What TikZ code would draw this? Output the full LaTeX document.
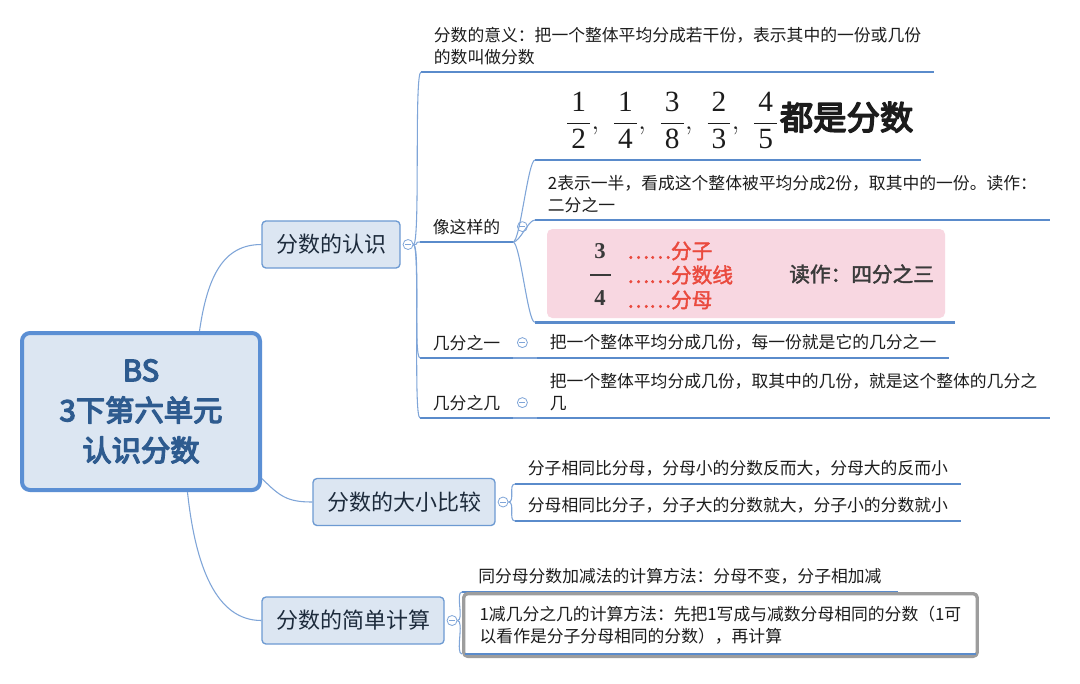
\documentclass[tikz,border=0pt]{standalone}
\usepackage{fontspec}
\setmainfont{Noto Sans CJK SC}
\newfontfamily\cjkbf[FakeBold=2]{Noto Sans CJK SC}
\newfontfamily\cjkheavy[FakeBold=4.5]{Noto Sans CJK SC}
\newfontfamily\numfont{Liberation Serif}
\usetikzlibrary{positioning}
\definecolor{Wire}{HTML}{7FA5D8}
\definecolor{ULine}{HTML}{5A8BCB}
\definecolor{Frame}{HTML}{6D9AD2}
\definecolor{Pale}{HTML}{DCE6F2}
\definecolor{RootEdge}{HTML}{5B8FD4}
\definecolor{RootInk}{HTML}{2E5B8F}
\definecolor{Ink}{HTML}{1C1C1C}
\definecolor{TopicInk}{HTML}{1D2B3C}
\definecolor{Blush}{HTML}{F8D7E1}
\definecolor{Scarlet}{HTML}{EA4A3E}
\definecolor{NumInk}{HTML}{3A3A3A}
\definecolor{Selgrey}{HTML}{9D9D9D}
\newcommand{\bodysize}{\fontsize{12.6}{16.5}\selectfont}
\newcommand{\fr}[2]{\(\displaystyle\frac{\hbox to 17pt{\hss\numfont #1\hss}}{\hbox to 17pt{\hss\numfont #2\hss}}\)}
\tikzset{
  rootbox/.style={draw=RootEdge,line width=3pt,fill=Pale,rounded corners=6pt,minimum width=178.5pt,minimum height=117.75pt,align=center,text=RootInk,font=\cjkheavy\fontsize{22}{30}\selectfont},
  topic/.style={draw=Frame,line width=1pt,fill=Pale,rounded corners=3pt,minimum height=35.25pt,inner xsep=10.5pt,text=TopicInk,font=\fontsize{16.5}{20}\selectfont},
  leaf/.style={anchor=south west,align=left,inner xsep=9.5pt,inner ysep=5.5pt,text=Ink,font=\bodysize},
  uline/.style={draw=ULine,line width=2.2pt},
  wire/.style={draw=Wire,line width=0.8pt,to path={.. controls +(7,0) and +(-7,0) .. (\tikztotarget)}},
  fold/.style={circle,draw=Wire,fill=white,line width=0.6pt,inner sep=0pt,minimum size=7.5pt,
    path picture={\draw[Wire,line width=0.6pt] ([xshift=-2.2pt]path picture bounding box.center) -- ([xshift=2.2pt]path picture bounding box.center);}},
  redlbl/.style={anchor=west,inner sep=0pt,text=Scarlet,font=\cjkbf\fontsize{15.5}{16}\selectfont},
}
\begin{document}
\begin{tikzpicture}[x=0.75pt,y=-0.75pt,line join=round]
\useasboundingbox (0,0) rectangle (1080,683);
\fill[white] (0,0) rectangle (1080,683);
% root and main topics
\node[rootbox] (root) at (141,411.5) {BS\\3下第六单元\\认识分数};
\node[topic] (t1) at (331,244.5) {分数的认识};
\node[topic] (t2) at (404,502) {分数的大小比较};
\node[topic] (t3) at (353,620.5) {分数的简单计算};
\draw[wire] (root.54) .. controls +(8,-55) and +(-38,0) .. (t1.west);
\draw[wire] (root.-29) .. controls +(18,18) and +(-25,0) .. (t2.west);
\draw[wire] (root.-60) .. controls +(8,75) and +(-45,0) .. (t3.west);
% 分数的认识
\node[leaf] (a1) at (421,72) {分数的意义：把一个整体平均分成若干份，表示其中的一份或几份\\的数叫做分数};
\node[leaf] (b) at (420,242) {像这样的};
\node[leaf] (c) at (420,358) {几分之一};
\node[leaf] (d) at (420,418) {几分之几};
\node[leaf,align=right,text width=278.25pt,inner xsep=5.25pt,inner ysep=8pt] (b1) at (535,160)
  {\fontsize{22}{26}\selectfont\fr{1}{2}\(,\)\hspace{10pt}\fr{1}{4}\(,\)\hspace{10pt}\fr{3}{8}\(,\)\hspace{10pt}\fr{2}{3}\(,\)\hspace{10pt}\fr{4}{5}\hspace{1pt}{\cjkheavy\fontsize{25}{28}\selectfont 都是分数}};
\node[leaf] (b2) at (535,220) {2表示一半，看成这个整体被平均分成2份，取其中的一份。读作：\\二分之一};
\node[fill=Blush,rounded corners=4pt,minimum width=298.5pt,minimum height=66.75pt] (pk) at (746,273.5) {};
\coordinate (b3l) at ([xshift=-9pt,yshift=-3pt]pk.south west);
\coordinate (b3r) at ([xshift=7.5pt,yshift=-3pt]pk.south east);
\node[inner sep=0pt,text=NumInk,font=\numfont\bfseries\fontsize{17}{17}\selectfont] (n3) at (600,251) {3};
\node[inner sep=0pt,text=NumInk,font=\numfont\bfseries\fontsize{17}{17}\selectfont] (n4) at (600,298) {4};
\draw[NumInk,line width=1.1pt] (590,275) -- (611,275);
\node[redlbl] (r1) at (627,251) {……分子};
\node[redlbl] (r2) at (627,275) {……分数线};
\node[redlbl] (r3) at (627,300) {……分母};
\node[anchor=west,inner sep=0pt,text=NumInk,font=\cjkbf\fontsize{15.5}{16}\selectfont] (rd) at (789,274) {读作：四分之三};
\node[leaf] (c1) at (537,358) {把一个整体平均分成几份，每一份就是它的几分之一};
\node[leaf] (d1) at (537,418) {把一个整体平均分成几份，取其中的几份，就是这个整体的几分之\\几};
% 分数的大小比较
\node[leaf] (e1) at (515,484) {分子相同比分母，分母小的分数反而大，分母大的反而小};
\node[leaf] (e2) at (515,521) {分母相同比分子，分子大的分数就大，分子小的分数就小};
% 分数的简单计算
\node[leaf,inner xsep=12pt] (f1) at (462,592) {同分母分数加减法的计算方法：分母不变，分子相加减};
\draw[uline] (f1.south west) -- (f1.south east);
\node[leaf,anchor=north west,draw=Selgrey,line width=2.5pt,fill=white,rounded corners=3pt,minimum height=47pt,inner xsep=12pt] (f2) at (462,592)
  {1减几分之几的计算方法：先把1写成与减数分母相同的分数（1可\\以看作是分子分母相同的分数），再计算};
\draw[uline] ([xshift=2pt,yshift=3pt]f2.south west) -- ([xshift=-2pt,yshift=3pt]f2.south east);
% underlines
\foreach \n in {a1,b,c,d,b1,b2,c1,d1,e1,e2}
  \draw[uline] (\n.south west) -- (\n.south east);
\draw[uline] (b3l) -- (b3r);
% connectors
\node[fold,right=1.5pt of t1] (ft1) {};
\foreach \k in {a1,b,c,d}
  \draw[wire] (ft1.east) to (\k.south west);
\node[fold] (fb) at ([xshift=7pt]b.east) {};
\node[fold] (fc) at ([xshift=7pt]c.east) {};
\node[fold] (fd) at ([xshift=7pt]d.east) {};
\draw[wire] (b.south east) to (b1.south west);
\draw[wire] (b.south east) to (b2.south west);
\draw[wire] (b.south east) to (b3l);
\draw[wire] (c.south east) to (c1.south west);
\draw[wire] (d.south east) to (d1.south west);
\node[fold,right=1.5pt of t2] (ft2) {};
\draw[wire] (ft2.east) to (e1.south west);
\draw[wire] (ft2.east) to (e2.south west);
\node[fold,right=1.5pt of t3] (ft3) {};
\draw[wire] (ft3.east) to (f1.south west);
\draw[wire] (ft3.east) to ([yshift=3pt]f2.south west);
\end{tikzpicture}
\end{document}
